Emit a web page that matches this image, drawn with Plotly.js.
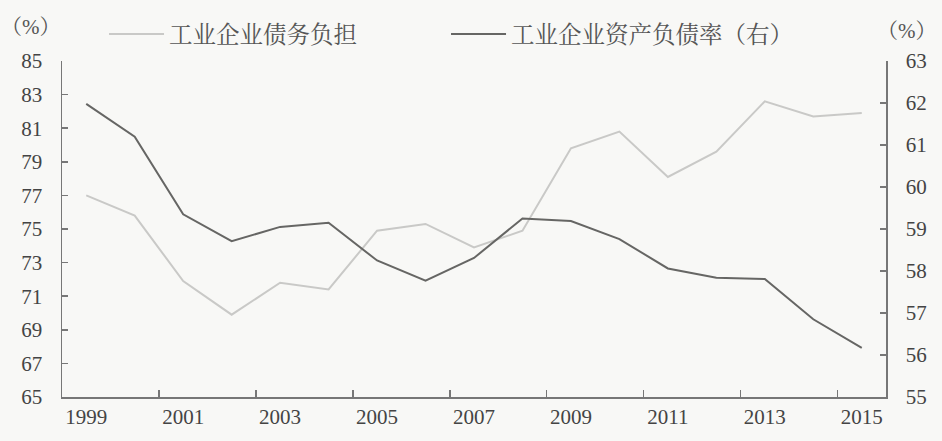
<!DOCTYPE html>
<html>
<head>
<meta charset="utf-8">
<script src="https://cdn.plot.ly/plotly-3.0.1.min.js"></script>
<style>html,body{margin:0;padding:0;background:#f8f8f6;}#chart{width:942px;height:441px;}</style>
</head>
<body>
<div id="chart"></div>
<script>
const years = [1999,2000,2001,2002,2003,2004,2005,2006,2007,2008,2009,2010,2011,2012,2013,2014,2015];
const debtBurden = [77.0,75.8,71.9,69.9,71.8,71.4,74.9,75.3,73.9,74.9,79.8,80.8,78.1,79.6,82.6,81.7,81.9];
const assetLiabilityRatio = [61.98,61.2,59.35,58.71,59.05,59.15,58.25,57.77,58.31,59.25,59.19,58.76,58.06,57.84,57.81,56.85,56.17];
const xLabelYears = [1999,2001,2003,2005,2007,2009,2011,2013,2015];
const xTickBounds = [2000.5,2002.5,2004.5,2006.5,2008.5,2010.5,2012.5,2014.5];
const seriesNames = ['工业企业债务负担','工业企业资产负债率（右）'];
const unitLabel = '（%）';

const FONT = 'Liberation Serif, "Noto Serif CJK SC", "Noto Sans CJK SC", serif';
const axisCol = '#777777';

const traces = [
  {x: years, y: debtBurden, name: seriesNames[0], type: 'scatter', mode: 'lines',
   line: {color: '#c9c9c7', width: 2}, xaxis: 'x', yaxis: 'y'},
  {x: years, y: assetLiabilityRatio, name: seriesNames[1], type: 'scatter', mode: 'lines',
   line: {color: '#666664', width: 2}, xaxis: 'x2', yaxis: 'y2'}
];

const layout = {
  width: 942, height: 441,
  margin: {l: 62, r: 56, t: 56, b: 44},
  paper_bgcolor: '#f8f8f6', plot_bgcolor: '#f8f8f6',
  font: {family: FONT, size: 21, color: '#444'},
  showlegend: true,
  legend: {orientation: 'h', x: 0.051, y: 1.08, xanchor: 'left', yanchor: 'middle',
           font: {size: 23.5, color: '#555'}, entrywidth: 272, itemwidth: 55, bgcolor: 'rgba(0,0,0,0)'},
  xaxis: {type: 'linear', range: [1998.5, 2015.5], tickmode: 'array', tickvals: xLabelYears,
          ticktext: xLabelYears.map(String), ticks: '', showline: true, linecolor: axisCol,
          linewidth: 1.5, showgrid: false, zeroline: false, fixedrange: true},
  xaxis2: {type: 'linear', range: [1998.5, 2015.5], overlaying: 'x', anchor: 'y2',
           tickmode: 'array', tickvals: xTickBounds, ticks: 'inside', ticklen: 7,
           tickcolor: axisCol, tickwidth: 1.5, showticklabels: false, showline: false,
           showgrid: false, zeroline: false},
  yaxis: {range: [65, 85], dtick: 2, tick0: 65, ticks: 'inside', ticklen: 6, tickcolor: axisCol,
          tickwidth: 1.5, showline: true, linecolor: axisCol, linewidth: 1.5, showgrid: false,
          zeroline: false, ticklabelstandoff: 14},
  yaxis2: {range: [55, 63], dtick: 1, tick0: 55, overlaying: 'y', side: 'right', ticks: 'inside',
           ticklen: 6, tickcolor: axisCol, tickwidth: 1.5, showline: true, linecolor: axisCol,
           linewidth: 1.5, showgrid: false, zeroline: false, ticklabelstandoff: 14},
  annotations: [
    {text: unitLabel, xref: 'paper', yref: 'paper', x: -0.038, y: 1.1, xanchor: 'center', yanchor: 'middle',
     showarrow: false, font: {size: 21, color: '#555'}},
    {text: unitLabel, xref: 'paper', yref: 'paper', x: 1.025, y: 1.09, xanchor: 'center', yanchor: 'middle',
     showarrow: false, font: {size: 21, color: '#555'}}
  ]
};

Plotly.newPlot('chart', traces, layout, {displayModeBar: false, staticPlot: true});
</script>
</body>
</html>
